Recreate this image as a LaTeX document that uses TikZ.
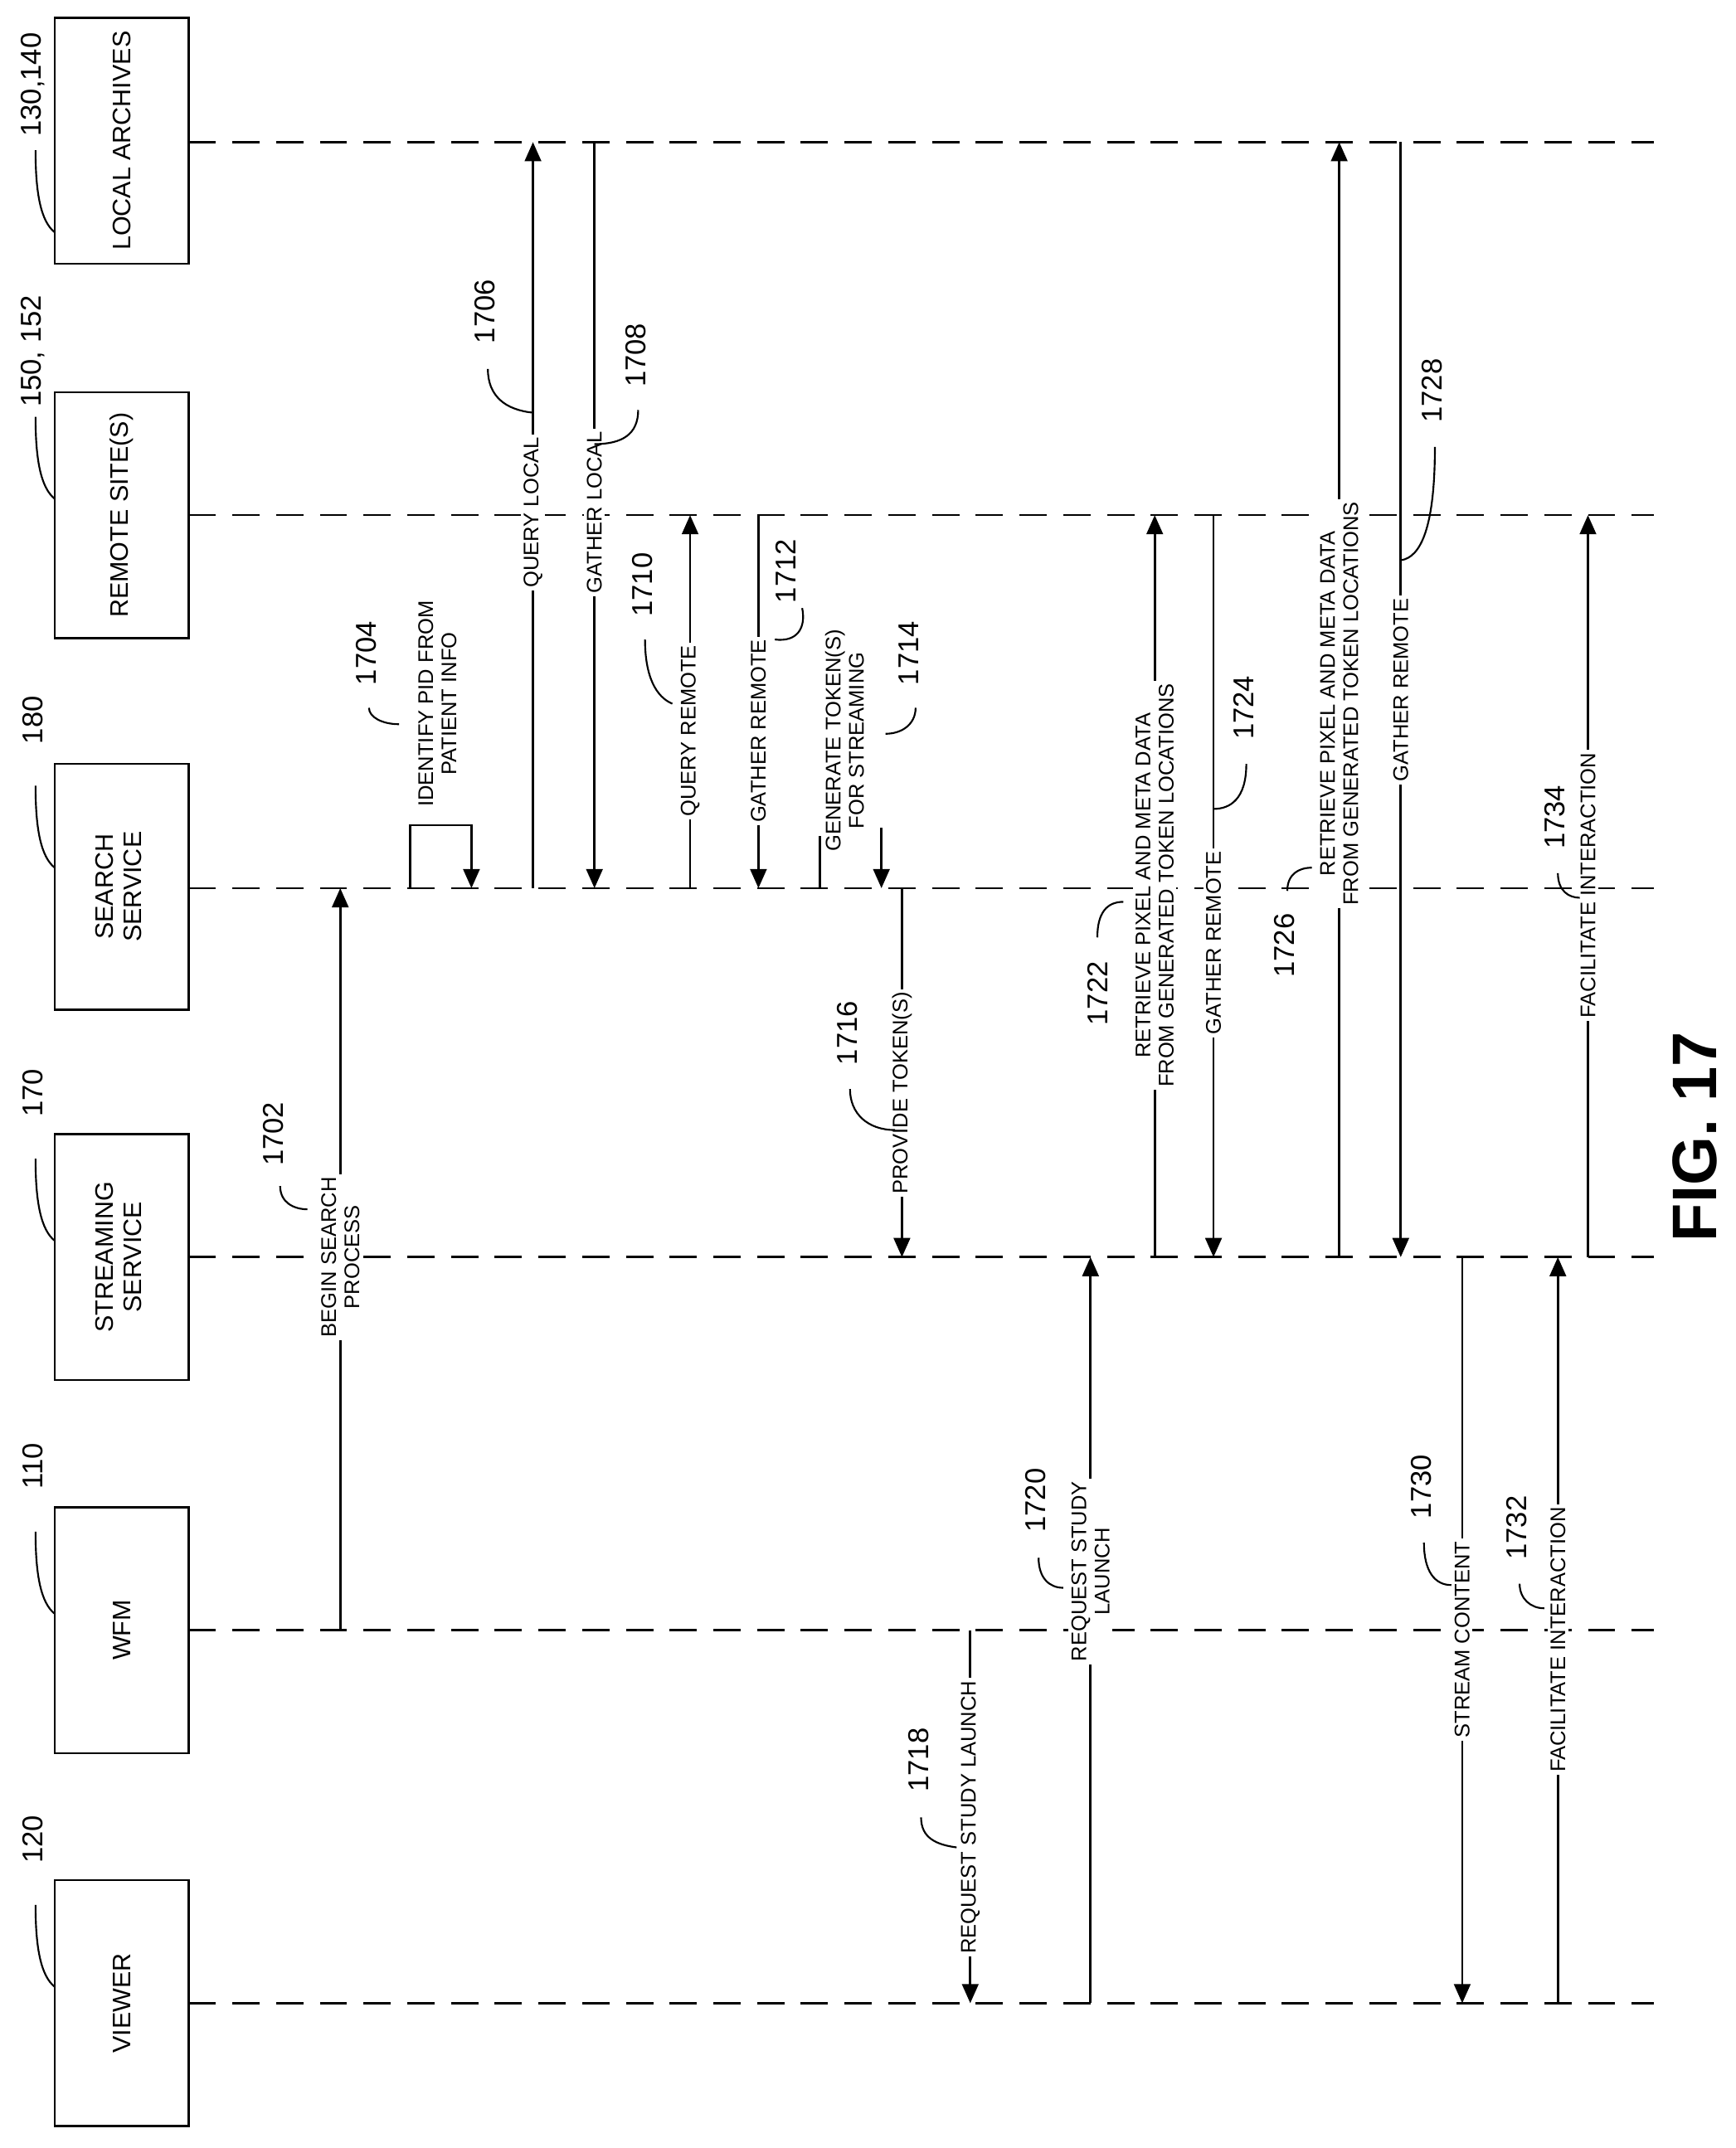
\documentclass[tikz,border=0pt]{standalone}
\usepackage{fontspec}
\setmainfont{Liberation Sans}
\usetikzlibrary{arrows.meta}
\begin{document}
\begin{tikzpicture}[x=1pt,y=-1pt,
  life/.style={line width=1.6pt,dash pattern=on 20pt off 12pt},
  box/.style={draw,line width=1.6pt,minimum width=98pt,minimum height=180pt,align=center,font=\fontsize{18.5}{21}\selectfont,inner sep=0pt},
  msg/.style={line width=1.6pt,-{Triangle[length=14pt,width=12pt]}},
  plain/.style={line width=1.6pt},
  lbl/.style={rotate=90,fill=white,inner sep=2pt,align=center,font=\fontsize{15.5}{17}\selectfont},
  ref/.style={rotate=90,font=\fontsize{21}{23}\selectfont,inner sep=1pt},
  lead/.style={line width=1.3pt}]
\useasboundingbox (0,0) rectangle (1270,1572);
% boxes
\node[box] (bla) at (89,103) {\rotatebox{90}{LOCAL ARCHIVES}};
\node[box] (brs) at (89,377) {\rotatebox{90}{REMOTE SITE(S)}};
\node[box] (bss) at (89,649) {\rotatebox{90}{\begin{tabular}{c}SEARCH\\SERVICE\end{tabular}}};
\node[box] (bst) at (89,920) {\rotatebox{90}{\begin{tabular}{c}STREAMING\\SERVICE\end{tabular}}};
\node[box] (bwf) at (89,1193) {\rotatebox{90}{WFM}};
\node[box] (bvi) at (89,1466) {\rotatebox{90}{VIEWER}};
% lifelines
\foreach \n/\y in {la/104,rs/377,ss/650,st/920,wf/1193,vi/1466}{
  \coordinate (\n e) at (1210,\y);
  \draw[life] (138,\y) -- (\n e);}
% box refs
\foreach \t/\y in {{130,140}/62,{150, 152}/257,180/527,170/800,110/1073,120/1346}{
  \node[ref] at (24,\y) {\t};
  \draw[lead] (26,\y+48) .. controls (26,\y+80) and (30,\y+100) .. (40,\y+108);}
% messages
\newcommand\msgv[6]{% name, x, y1, y2, labely, text
  \coordinate (#1a) at (#2,#3); \coordinate (#1b) at (#2,#4);
  \draw[msg] (#1a) -- (#1b);
  \node[lbl] (#1l) at (#2,#5) {#6};}
\msgv{m1702}{249}{1193}{650}{920}{BEGIN SEARCH\\PROCESS}
\msgv{m1706}{390}{650}{104}{375}{QUERY LOCAL}
\msgv{m1708}{435}{104}{650}{375}{GATHER LOCAL}
\msgv{m1710}{505}{650}{377}{535}{QUERY REMOTE}
\msgv{m1712}{555}{377}{650}{535}{GATHER REMOTE}
\msgv{m1716}{660}{650}{920}{800}{PROVIDE TOKEN(S)}
\msgv{m1718}{710}{1193}{1466}{1330}{REQUEST STUDY LAUNCH}
\msgv{m1720}{798}{1466}{920}{1150}{REQUEST STUDY\\LAUNCH}
\msgv{m1722}{845}{920}{377}{648}{RETRIEVE PIXEL AND META DATA\\FROM GENERATED TOKEN LOCATIONS}
\msgv{m1724}{888}{377}{920}{690}{GATHER REMOTE}
\msgv{m1726}{980}{920}{104}{515}{RETRIEVE PIXEL AND META DATA\\FROM GENERATED TOKEN LOCATIONS}
\msgv{m1728}{1025}{104}{920}{505}{GATHER REMOTE}
\msgv{m1730}{1070}{920}{1466}{1200}{STREAM CONTENT}
\msgv{m1732}{1140}{1466}{920}{1200}{FACILITATE INTERACTION}
\msgv{m1734}{1162}{920}{377}{648}{FACILITATE INTERACTION}
% self loop 1704
\coordinate (s1) at (300,650); \coordinate (s2) at (345,650);
\draw[msg] (s1) -- (300,604) -- (345,604) -- (s2);
\node[lbl,fill=none] (l1704) at (320,515) {IDENTIFY PID FROM\\PATIENT INFO};
% 1714
\coordinate (g1) at (600,650); \coordinate (g2) at (645,650);
\draw[plain] (g1) -- (600,612);
\draw[msg] (645,606) -- (g2);
\node[lbl,fill=none] (l1714) at (618,542) {GENERATE TOKEN(S)\\FOR STREAMING};
% reference numbers with leaders
\newcommand\refn[7]{% x,y,text, leader start, c1, c2, end
  \node[ref] at (#1,#2) {#3};
  \draw[lead] #4 .. controls #5 and #6 .. #7;}
\refn{200}{830}{1702}{(205,868)}{(205,880)}{(215,885)}{(225,885)}
\refn{268}{478}{1704}{(270,518)}{(270,525)}{(280,530)}{(292,530)}
\refn{355}{228}{1706}{(357,270)}{(357,290)}{(370,300)}{(390,302)}
\refn{465}{260}{1708}{(467,300)}{(467,318)}{(455,325)}{(435,325)}
\refn{470}{428}{1710}{(472,468)}{(472,495)}{(480,510)}{(492,515)}
\refn{575}{418}{1712}{(587,445)}{(590,460)}{(583,470)}{(567,468)}
\refn{665}{478}{1714}{(670,518)}{(670,530)}{(660,537)}{(648,537)}
\refn{620}{756}{1716}{(622,797)}{(622,815)}{(635,827)}{(655,827)}
\refn{672}{1288}{1718}{(674,1330)}{(674,1345)}{(685,1350)}{(700,1352)}
\refn{758}{1098}{1720}{(760,1140)}{(760,1155)}{(768,1162)}{(778,1162)}
\refn{803}{727}{1722}{(803,686)}{(803,668)}{(810,660)}{(822,660)}
\refn{910}{518}{1724}{(912,559)}{(912,585)}{(900,592)}{(888,592)}
\refn{940}{692}{1726}{(942,652)}{(942,640)}{(950,635)}{(960,635)}
\refn{1048}{286}{1728}{(1050,327)}{(1050,385)}{(1040,408)}{(1025,410)}
\refn{1040}{1088}{1730}{(1042,1129)}{(1042,1150)}{(1050,1160)}{(1062,1160)}
\refn{1110}{1118}{1732}{(1112,1159)}{(1112,1170)}{(1120,1177)}{(1130,1177)}
\refn{1138}{598}{1734}{(1140,639)}{(1140,652)}{(1148,657)}{(1156,657)}
\node[rotate=90,font=\bfseries\fontsize{46}{50}\selectfont] (fig) at (1240,832) {FIG. 17};
\end{tikzpicture}
\end{document}
